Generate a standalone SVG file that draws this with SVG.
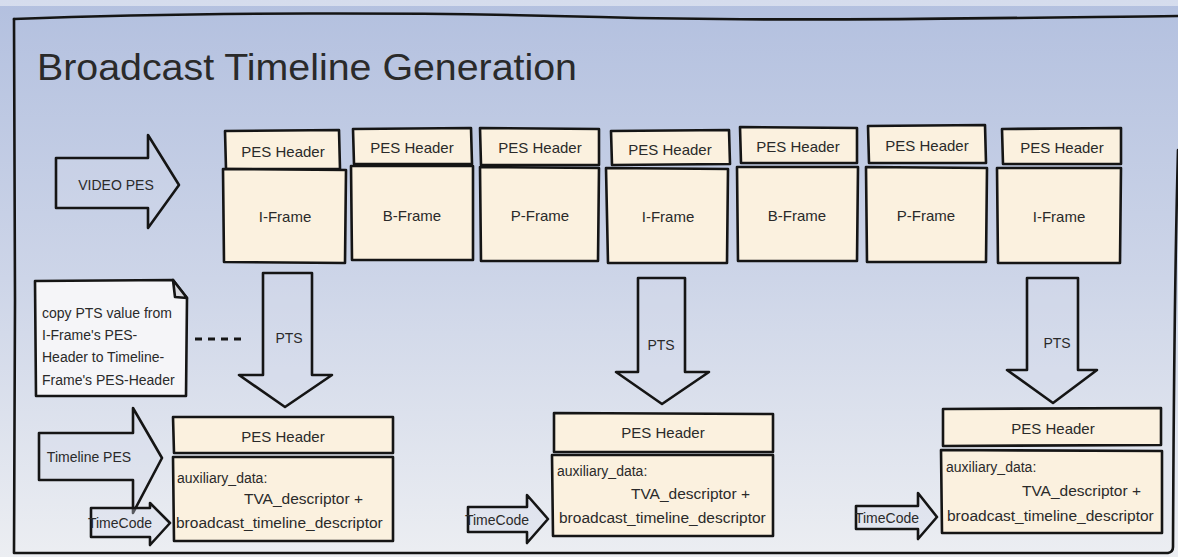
<svg xmlns="http://www.w3.org/2000/svg" width="1178" height="557" viewBox="0 0 1178 557">
<defs>
<linearGradient id="bg" x1="0" y1="0" x2="0" y2="1">
<stop offset="0" stop-color="#b3c0df"/>
<stop offset="0.5" stop-color="#cdd5e8"/>
<stop offset="1" stop-color="#eceef2"/>
</linearGradient>
<style>
.ln{stroke:#151515;stroke-width:2.6;stroke-linejoin:round;stroke-linecap:round}
.box{fill:#fbf1df}
.arr{fill:#d4dbec;fill-opacity:0.35}
.note{fill:#f5f5f8}
.t{font-family:"Liberation Sans",Arial,sans-serif;fill:#2a2a2a}
.c{text-anchor:middle;dominant-baseline:central}
.s14{font-size:14px}
.s15{font-size:15px}
.s155{font-size:15.5px}
</style>
</defs>
<rect x="0" y="0" width="1178" height="557" fill="url(#bg)"/>
<rect x="0" y="0" width="1178" height="6" fill="#ffffff" opacity="0.45"/>
<g id="frame">
<path class="ln" fill="none" stroke-width="2.2" d="M14,19 C200,12 420,12 600,17 S1000,18 1178,16"/>
<path class="ln" fill="none" stroke-width="2.2" d="M14,19 L15,300 L14,553 L1168,553 Q1173,552 1173,547 Q1174,300 1178,150"/>
<text class="t" x="37" y="80" font-size="36" textLength="540" lengthAdjust="spacingAndGlyphs" fill="#151515">Broadcast Timeline Generation</text>
</g>
<g id="video-pes">
<path class="ln arr" d="M56,158 L148,158 L148,135 L179,185 L148,228 L148,208 L56,208 Z"/>
<text class="t c s14" x="116" y="185">VIDEO PES</text>
</g>
<g id="col1">
<path class="ln box" d="M225,131 L339,130 L340,169 L226,169 Z"/>
<text class="t c s15" x="283" y="151">PES Header</text>
<path class="ln box" d="M223,169 L346,170 L345,263 L224,262 Z"/>
<text class="t c s15" x="285" y="216">I-Frame</text>
</g>
<g id="col2">
<path class="ln box" d="M353,129 L471,128 L472,164 L354,164 Z"/>
<text class="t c s15" x="412" y="147">PES Header</text>
<path class="ln box" d="M351,166 L473,166 L473,260 L352,260 Z"/>
<text class="t c s15" x="412" y="215">B-Frame</text>
</g>
<g id="col3">
<path class="ln box" d="M480,128 L599,129 L599,165 L481,165 Z"/>
<text class="t c s15" x="540" y="147">PES Header</text>
<path class="ln box" d="M480,167 L599,168 L598,261 L481,261 Z"/>
<text class="t c s15" x="540" y="215">P-Frame</text>
</g>
<g id="col4">
<path class="ln box" d="M611,131 L729,130 L730,164 L612,165 Z"/>
<text class="t c s15" x="670" y="149">PES Header</text>
<path class="ln box" d="M606,168 L728,169 L727,263 L608,263 Z"/>
<text class="t c s15" x="668" y="216">I-Frame</text>
</g>
<g id="col5">
<path class="ln box" d="M740,127 L857,128 L857,163 L741,163 Z"/>
<text class="t c s15" x="798" y="146">PES Header</text>
<path class="ln box" d="M737,167 L858,167 L857,261 L738,261 Z"/>
<text class="t c s15" x="797" y="215">B-Frame</text>
</g>
<g id="col6">
<path class="ln box" d="M868,126 L985,125 L986,163 L869,163 Z"/>
<text class="t c s15" x="927" y="145">PES Header</text>
<path class="ln box" d="M866,167 L987,168 L986,262 L867,262 Z"/>
<text class="t c s15" x="926" y="215">P-Frame</text>
</g>
<g id="col7">
<path class="ln box" d="M1002,129 L1121,128 L1121,164 L1003,164 Z"/>
<text class="t c s15" x="1062" y="147">PES Header</text>
<path class="ln box" d="M997,168 L1121,168 L1120,263 L998,263 Z"/>
<text class="t c s15" x="1059" y="216">I-Frame</text>
</g>
<g id="note">
<path class="ln note" stroke-width="2.2" d="M35,281 L173,280 L187,298 L186,396 L36,396 Z"/>
<path class="ln" fill="#d9d9de" stroke-width="1.8" d="M173,280 L175,297 L187,298 Z"/>
<text class="t s14" x="42" y="318">copy PTS value from</text>
<text class="t s14" x="42" y="340">I-Frame's PES-</text>
<text class="t s14" x="42" y="362">Header to Timeline-</text>
<text class="t s14" x="42" y="385">Frame's PES-Header</text>
</g>
<g id="timeline-pes">
<path class="ln arr" d="M39,433 L133,433 L133,408 L162,458 L133,513 L133,480 L39,480 Z"/>
<text class="t c s14" x="89" y="457">Timeline PES</text>
</g>
<g id="timeline1">
<path class="ln box" d="M173,417 L393,417 L393,453 L174,453 Z"/>
<text class="t c s15" x="283" y="436">PES Header</text>
<path class="ln box" d="M173,457 L393,457 L393,541 L174,541 Z"/>
<text class="t s14" x="177" y="483">auxiliary_data:</text>
<text class="t s155" x="363" y="504" text-anchor="end">TVA_descriptor +</text>
<text class="t s155" x="176" y="528">broadcast_timeline_descriptor</text>
</g>
<g id="timecode1">
<path class="ln arr" d="M91,508 L150,508 L150,503 L170,523 L150,545 L150,537 L91,537 Z"/>
<text class="t c s14" x="120" y="523">TimeCode</text>
</g>
<g id="timeline2">
<path class="ln box" d="M554,413 L773,414 L773,452 L554,452 Z"/>
<text class="t c s15" x="663" y="432">PES Header</text>
<path class="ln box" d="M552,455 L773,455 L773,536 L553,536 Z"/>
<text class="t s14" x="557" y="476">auxiliary_data:</text>
<text class="t s155" x="750" y="499" text-anchor="end">TVA_descriptor +</text>
<text class="t s155" x="559" y="523">broadcast_timeline_descriptor</text>
</g>
<g id="timecode2">
<path class="ln arr" d="M468,507 L527,507 L527,495 L548,519 L527,543 L527,532 L468,532 Z"/>
<text class="t c s14" x="497" y="520">TimeCode</text>
</g>
<g id="timeline3">
<path class="ln box" d="M943,409 L1161,408 L1161,445 L943,446 Z"/>
<text class="t c s15" x="1053" y="428">PES Header</text>
<path class="ln box" d="M941,450 L1162,451 L1162,533 L942,533 Z"/>
<text class="t s14" x="946" y="472">auxiliary_data:</text>
<text class="t s155" x="1141" y="496" text-anchor="end">TVA_descriptor +</text>
<text class="t s155" x="947" y="521">broadcast_timeline_descriptor</text>
</g>
<g id="timecode3">
<path class="ln arr" d="M856,506 L918,506 L918,493 L937,517 L918,539 L918,529 L856,529 Z"/>
<text class="t c s14" x="887" y="518">TimeCode</text>
</g>
<g id="connectors">
<path class="ln arr" d="M263,273 L312,273 L312,375 L332,375 L285,407 L239,375 L263,375 Z"/>
<text class="t c s14" x="289" y="338">PTS</text>
<path class="ln arr" d="M638,278 L685,278 L685,372 L709,372 L662,404 L616,372 L638,372 Z"/>
<text class="t c s14" x="661" y="345">PTS</text>
<path class="ln arr" d="M1027,278 L1078,278 L1078,370 L1097,370 L1053,403 L1007,370 L1027,370 Z"/>
<text class="t c s14" x="1057" y="343">PTS</text>
<line x1="195" y1="339" x2="241" y2="339" stroke="#151515" stroke-width="3" stroke-dasharray="7 6"/>
</g>
</svg>
